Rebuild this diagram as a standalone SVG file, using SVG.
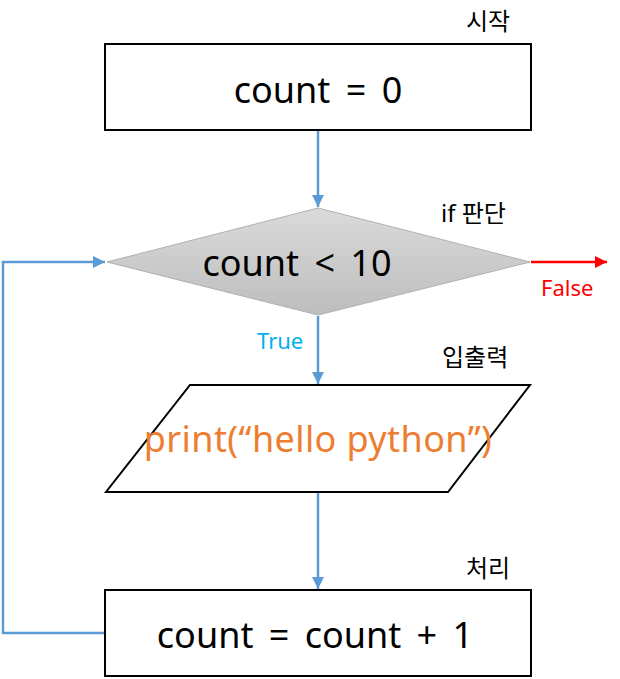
<svg xmlns="http://www.w3.org/2000/svg" width="620" height="679" viewBox="0 0 620 679">
<defs>
<linearGradient id="g" x1="0" y1="0" x2="0" y2="1">
<stop offset="0" stop-color="#dadada"/>
<stop offset="1" stop-color="#bdbdbd"/>
</linearGradient>
<marker id="ab" viewBox="0 0 10 10" refX="10" refY="5" markerWidth="5" markerHeight="5" orient="auto" markerUnits="strokeWidth"><path d="M0,0 L10,5 L0,10 z" fill="#5b9bd5"/></marker>
<marker id="ar" viewBox="0 0 10 10" refX="10" refY="5" markerWidth="5" markerHeight="5" orient="auto" markerUnits="strokeWidth"><path d="M0,0 L10,5 L0,10 z" fill="#ff0000"/></marker>
</defs>
<style>
text{font-family:"Noto Sans","Noto Sans CJK KR",sans-serif}
.big{font-size:36px;text-anchor:middle;fill:#000;word-spacing:6px}
.lab{font-size:24px;fill:#000}
.tf{font-size:22px}
.box{fill:#fff;stroke:#000;stroke-width:2}
.con{fill:none;stroke:#5b9bd5;stroke-width:2.5;marker-end:url(#ab)}
</style>
<g id="connectors">
<line class="con" x1="318" y1="131" x2="318" y2="207"/>
<line class="con" x1="318" y1="316" x2="318" y2="384"/>
<line class="con" x1="318" y1="493" x2="318" y2="589"/>
<polyline class="con" points="105,633 3,633 3,262 105,262"/>
<line x1="531" y1="262" x2="607" y2="262" stroke="#ff0000" stroke-width="2.5" marker-end="url(#ar)"/>
<text x="541" y="296" class="tf" style="fill:#ff0000">False</text>
<text x="257" y="349" class="tf" style="fill:#00b0f0">True</text>
</g>
<g id="start">
<rect class="box" x="105" y="44" width="426" height="86"/>
<text x="318" y="103" class="big">count = 0</text>
<text x="466" y="30" class="lab">시작</text>
</g>
<g id="decision">
<polygon points="318,208 530,262 318,315 107,262" fill="url(#g)" stroke="#b0b0b0" stroke-width="1"/>
<text x="297" y="276" class="big">count &lt; 10</text>
<text x="441" y="222" class="lab">if 판단</text>
</g>
<g id="io">
<polygon class="box" points="190,385 530,385 448,492 106,492"/>
<text x="318" y="452" class="big" style="fill:#ed7d31;word-spacing:0;letter-spacing:0.4px">print(“hello python”)</text>
<text x="442" y="366" class="lab">입출력</text>
</g>
<g id="process">
<rect class="box" x="105" y="590" width="426" height="86"/>
<text x="315" y="648" class="big">count = count + 1</text>
<text x="466" y="577" class="lab">처리</text>
</g>
</svg>
